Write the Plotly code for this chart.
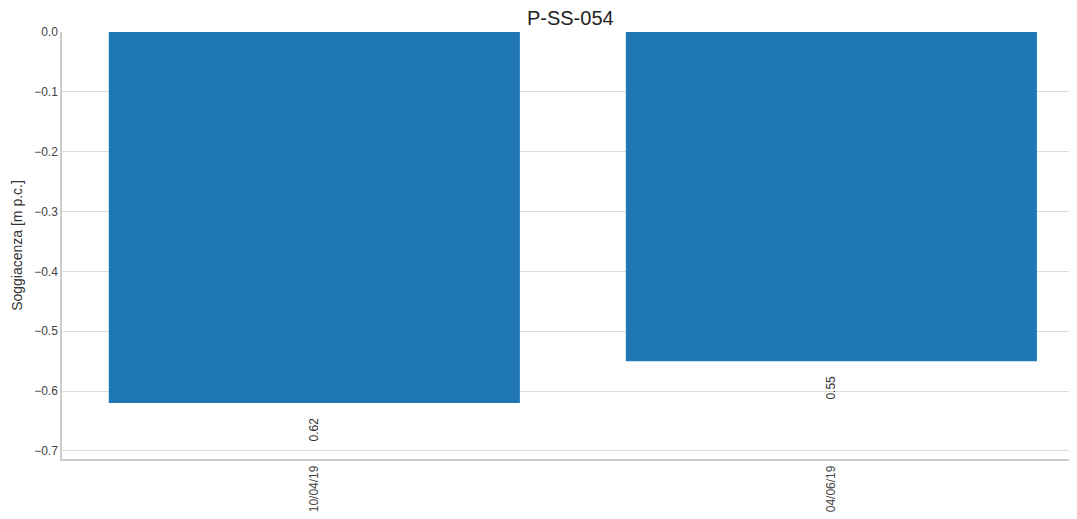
import plotly.graph_objects as go

dates = ["10/04/19", "04/06/19"]
depths = [-0.62, -0.55]
labels = ["0.62", "0.55"]
tick_vals = [0.0, -0.1, -0.2, -0.3, -0.4, -0.5, -0.6, -0.7]
tick_text = ["0.0", "−0.1", "−0.2", "−0.3", "−0.4", "−0.5", "−0.6", "−0.7"]

fig = go.Figure()
fig.add_trace(go.Bar(x=dates, y=depths, width=0.795, marker=dict(color="#1f77b4", line=dict(width=0))))

for d, v, t in zip(dates, depths, labels):
    fig.add_annotation(x=d, y=v, text=t, showarrow=False, textangle=-90,
                       yanchor="top", xanchor="center", yshift=-12,
                       font=dict(family="Liberation Sans, Arial", size=12, color="#333333"))

fig.update_layout(
    width=1069, height=511,
    margin=dict(l=54, r=0, t=24, b=60, autoexpand=False),
    paper_bgcolor="white", plot_bgcolor="white",
    showlegend=False,
    title=dict(text="P-SS-054", x=0.526, xanchor="center", y=0.994, yanchor="top",
               font=dict(family="Liberation Sans, Arial", size=20, color="#222222")),
    font=dict(family="Liberation Sans, Arial", size=12, color="#444444"),
)
fig.update_xaxes(type="category", range=[-0.488, 1.475], tickangle=-90, showgrid=False,
                 showline=True, linecolor="#cccccc", linewidth=1.5, ticks="", automargin=False,
                 tickfont=dict(size=12, color="#444444"))
fig.update_yaxes(range=[-0.7134, 0], tickvals=tick_vals, ticktext=tick_text,
                 showgrid=True, gridcolor="#dddddd", gridwidth=1, zeroline=False,
                 showline=True, linecolor="#cccccc", linewidth=1.5, ticks="", automargin=False,
                 title=dict(text="Soggiacenza [m p.c.]", font=dict(size=14, color="#333333"), standoff=8),
                 tickfont=dict(size=12, color="#444444"))

fig.write_html("out.html")
